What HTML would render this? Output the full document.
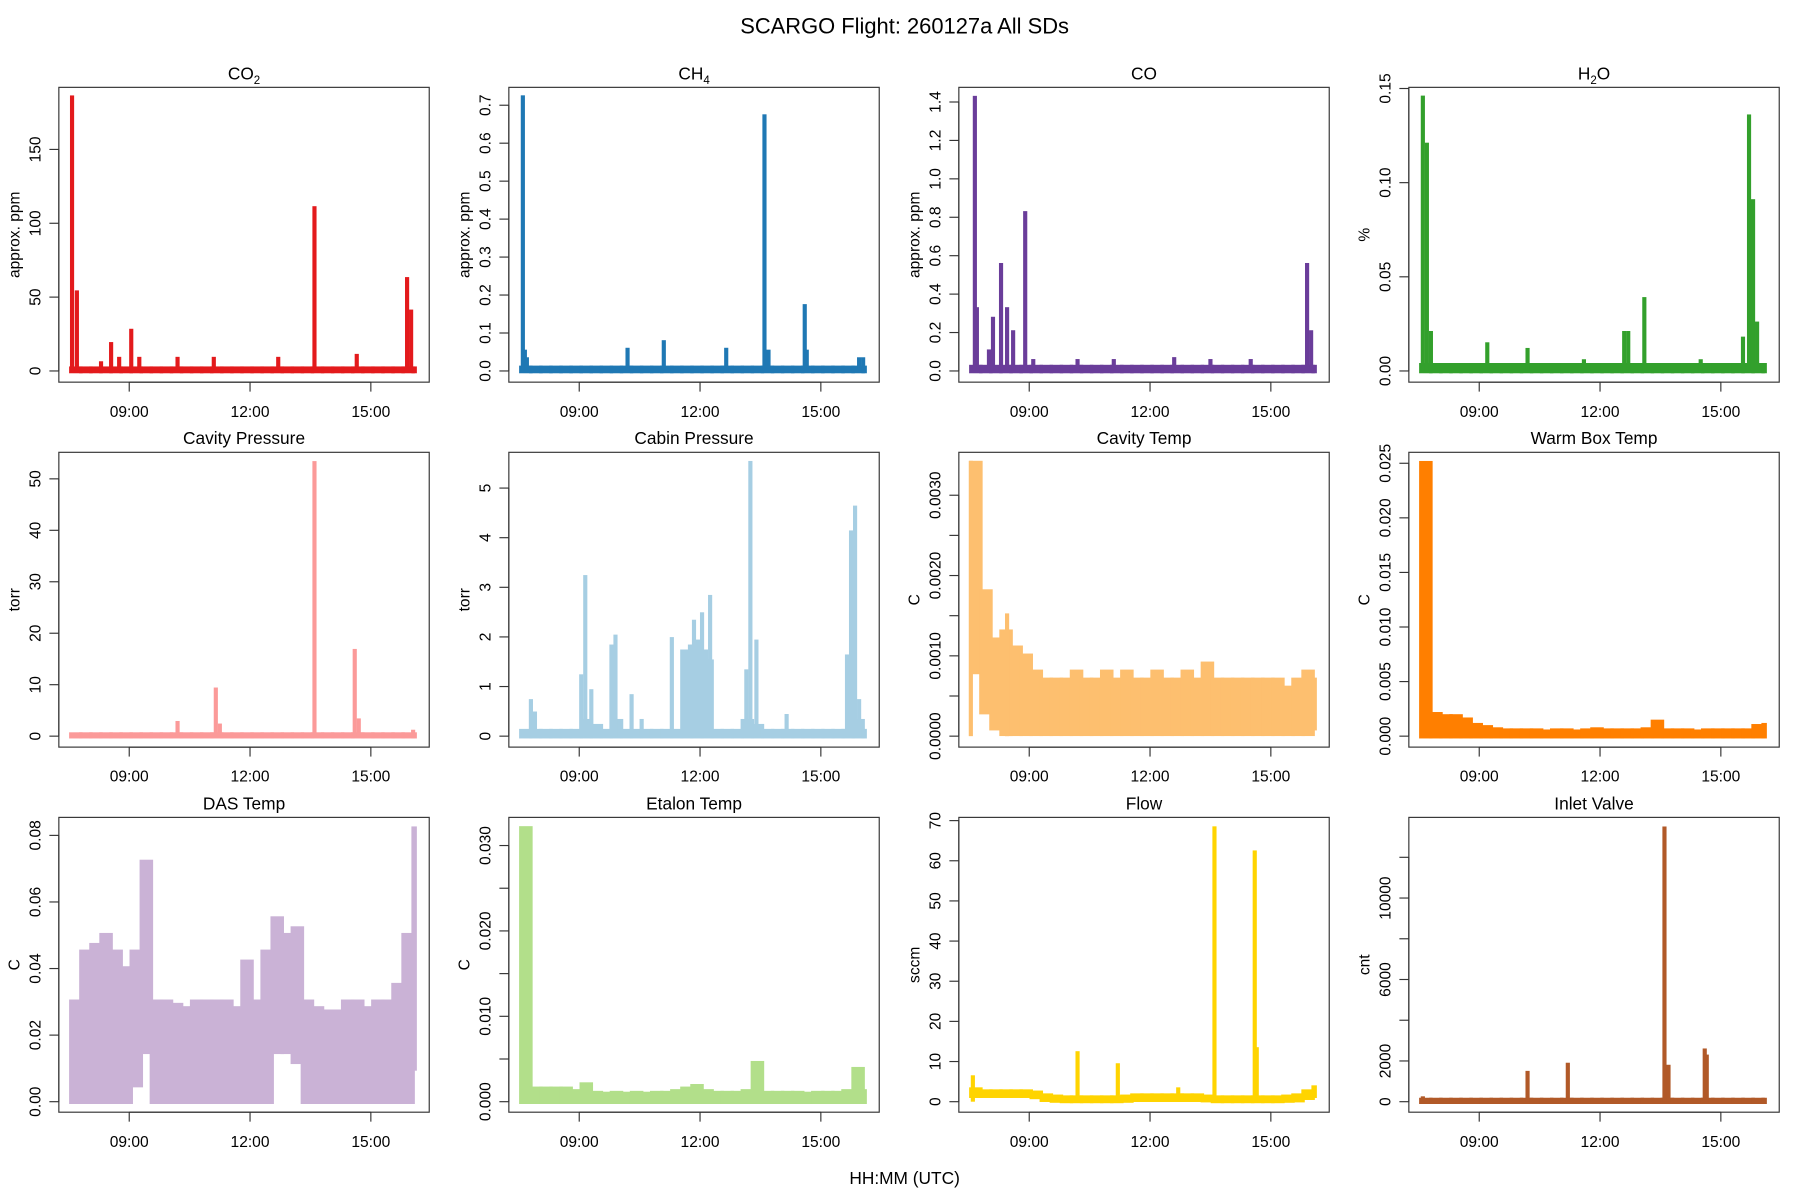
<!DOCTYPE html>
<html><head><meta charset="utf-8"><title>SCARGO Flight 260127a All SDs</title>
<style>
html,body{margin:0;padding:0;background:#fff;}
svg{display:block;font-family:"Liberation Sans",sans-serif;}
</style></head>
<body>
<svg id="chart" width="1800" height="1200" viewBox="0 0 1560 1040" xmlns="http://www.w3.org/2000/svg">
<text x="784" y="29" font-size="19" text-anchor="middle">SCARGO Flight: 260127a  All SDs</text>
<text x="784" y="1026" font-size="15" text-anchor="middle">HH:MM (UTC)</text>
</svg>
<script>
// shared bin times (hours UTC)
const binTimes = [7.55,7.80,8.05,8.30,8.55,8.80,9.05,9.30,9.55,9.80,10.05,10.30,10.55,10.80,11.05,11.30,11.55,11.80,12.05,12.30,12.55,12.80,13.05,13.30,13.55,13.80,14.05,14.30,14.55,14.80,15.05,15.30,15.55,15.80,16.05];
const xTickHours = [9,12,15];
const xTickLabels = ["09:00","12:00","15:00"];

// CO2
const co2SpikeT = [7.58,7.7,8.3,8.55,8.75,9.05,9.25,10.2,11.1,12.7,13.6,14.65,15.9,16.0];
const co2SpikeV = [185,53,5,18,8,27,8,8,8,8,110,10,62,40];
// CH4
const ch4SpikeT = [7.6,7.65,7.7,10.2,11.1,12.65,13.6,13.7,14.6,14.65,15.95,16.05];
const ch4SpikeV = [0.72,0.05,0.03,0.055,0.075,0.055,0.67,0.05,0.17,0.05,0.03,0.03];
// CO
const coSpikeT = [7.65,7.7,8.0,8.1,8.3,8.45,8.6,8.9,9.1,10.2,11.1,12.6,13.5,14.5,15.9,16.0];
const coSpikeV = [1.42,0.32,0.1,0.27,0.55,0.32,0.2,0.82,0.05,0.05,0.05,0.06,0.05,0.05,0.55,0.2];
// H2O
const h2oSpikeT = [7.6,7.7,7.8,9.2,10.2,11.6,12.6,12.7,13.1,14.5,15.55,15.7,15.8,15.9];
const h2oSpikeV = [0.145,0.12,0.02,0.014,0.011,0.005,0.02,0.02,0.038,0.005,0.017,0.135,0.09,0.025];
// Cavity pressure
const cavPSpikeT = [10.2,11.15,11.25,13.6,14.6,14.7,16.05];
const cavPSpikeV = [2.5,9,2,53,16.5,3,0.8];
// Cabin pressure
const cabinHi = [0.1,0.1,0.1,0.1,0.1,0.1,0.3,0.2,0.1,0.3,0.1,0.1,0.1,0.1,0.1,0.1,1.7,1.8,1.5,0.1,0.1,0.1,0.3,0.2,0.1,0.1,0.1,0.1,0.1,0.1,0.1,0.1,0.1,0.3,0.1];
const cabinSpikeT = [7.8,7.9,9.05,9.15,9.3,9.8,9.9,10.3,10.55,11.3,11.75,11.85,11.95,12.05,12.15,12.25,13.15,13.25,13.4,14.15,15.65,15.75,15.85,15.95];
const cabinSpikeV = [0.7,0.45,1.2,3.2,0.9,1.8,2.0,0.8,0.3,1.95,1.8,2.3,1.9,2.45,1.7,2.8,1.3,5.5,1.9,0.4,1.6,4.1,4.6,0.7];
// Cavity temp
const cavTHi = [0.0034,0.0018,0.0012,0.0013,0.0011,0.0010,0.0008,0.0007,0.0007,0.0007,0.0008,0.0007,0.0007,0.0008,0.0007,0.0008,0.0007,0.0007,0.0008,0.0007,0.0007,0.0008,0.0007,0.0009,0.0007,0.0007,0.0007,0.0007,0.0007,0.0007,0.0007,0.0006,0.0007,0.0008,0.0007];
const cavTLo = [0.0008,0.0003,0.0001,0.00003,0.00003,0.00003,0.00003,0.00003,0.00003,0.00003,0.00003,0.00003,0.00003,0.00003,0.00003,0.00003,0.00003,0.00003,0.00003,0.00003,0.00003,0.00003,0.00003,0.00003,0.00003,0.00003,0.00003,0.00003,0.00003,0.00003,0.00003,0.00003,0.00003,0.00003,0.0001];
const cavTSpikeT = [7.55,8.45];
const cavTSpikeV = [0.0034,0.0015];
// Warm box
const warmHi = [0.025,0.0020,0.0018,0.0018,0.0015,0.0010,0.0008,0.0006,0.0005,0.0005,0.0005,0.0005,0.0004,0.0005,0.0005,0.0004,0.0005,0.0006,0.0005,0.0005,0.0005,0.0005,0.0006,0.0013,0.0005,0.0005,0.0005,0.0004,0.0005,0.0005,0.0005,0.0005,0.0005,0.0009,0.0010];
// DAS temp
const dasHi = [0.030,0.045,0.047,0.050,0.045,0.040,0.045,0.072,0.030,0.030,0.029,0.028,0.030,0.030,0.030,0.030,0.028,0.042,0.030,0.045,0.055,0.050,0.052,0.030,0.028,0.027,0.027,0.030,0.030,0.028,0.030,0.030,0.035,0.050,0.082];
const dasLo = [0,0,0,0,0,0,0.005,0.015,0,0,0,0,0,0,0,0,0,0,0,0,0.015,0.015,0.012,0,0,0,0,0,0,0,0,0,0,0,0.01];
// Etalon temp
const etaHi = [0.032,0.0015,0.0015,0.0015,0.0015,0.0012,0.0020,0.0010,0.0009,0.0010,0.0009,0.0010,0.0009,0.0010,0.0010,0.0012,0.0015,0.0018,0.0012,0.0010,0.0010,0.0010,0.0012,0.0045,0.0010,0.0010,0.0010,0.0010,0.0009,0.0010,0.0010,0.0010,0.0012,0.0038,0.0012];
// Flow
const flowHi = [3,2.5,2.5,2.5,2.5,2.5,2.2,1.5,1.2,1.0,1.0,1.0,1.0,1.0,1.0,1.2,1.5,1.5,1.5,1.5,1.5,1.5,1.5,1.2,1.0,1.0,1.0,1.0,1.0,1.0,1.0,1.2,1.5,2.5,3.5];
const flowLo = [1.5,1.5,1.5,1.5,1.5,1.5,1.2,0.5,0.3,0.2,0.2,0.2,0.2,0.2,0.2,0.3,0.5,0.5,0.5,0.5,0.5,0.5,0.5,0.4,0.2,0.2,0.2,0.2,0.2,0.2,0.2,0.3,0.4,1.0,1.5];
const flowSpikeT = [7.6,10.2,11.2,12.7,13.6,14.6,14.65];
const flowSpikeV = [6,12,9,3,68,62,13];
// Inlet valve
const inletSpikeT = [7.6,10.2,11.2,13.6,13.7,14.6,14.65];
const inletSpikeV = [150,1400,1800,13400,1700,2500,2200];
const inletTickLabels = ["0","2000","","6000","","10000",""];

const svg = document.getElementById('chart');
const NS = 'http://www.w3.org/2000/svg';
const colX = [51,441,831,1221];
const rowY = [75.7,392,708.4];
const rowZero = [321.5,638,954.8];
const W = 321, H = 255.5;
const TL = 8.2;

function mk(tag, attrs, parent){
  const e = document.createElementNS(NS, tag);
  for (const k in attrs) e.setAttribute(k, attrs[k]);
  (parent||svg).appendChild(e);
  return e;
}

function panel(cfg){
  const L = colX[cfg.col], T = rowY[cfg.row], y0 = rowZero[cfg.row];
  const g = document.createElementNS(NS,'g');
  
  
  svg.appendChild(g);
  const xs = t => L + 61 + 34.9*(t-9);
  const ys = v => y0 - (v/cfg.tickStep)*cfg.pxPerTick;
  const band = document.createElementNS(NS,'g');
  
  
  g.appendChild(band);
  for (let i=0;i<binTimes.length;i++){
    const t0 = binTimes[i], t1 = Math.min(i+1<binTimes.length?binTimes[i+1]:16.1, 16.1);
    const hi = cfg.hi ? cfg.hi[i] : cfg.baseHi;
    const lo = cfg.lo ? cfg.lo[i] : 0;
    const x0 = xs(t0)-1.5, x1 = xs(t1)+1.5;
    const yt = ys(hi)-2, yb = ys(lo)+2;
    const r = mk('rect',{x:x0,y:yt,width:x1-x0,height:Math.max(yb-yt,3),fill:cfg.color},band);
    
    
  }
  if (cfg.spT){
    for (let i=0;i<cfg.spT.length;i++){
      const x = xs(cfg.spT[i]), yt = ys(cfg.spV[i])-2, yb = ys(0);
      const r = mk('rect',{x:x-1.8,y:yt,width:3.6,height:yb-yt,fill:cfg.color},band);
      
      
    }
  }
  const box = mk('rect',{x:L,y:T,width:W,height:H,fill:'none',stroke:'#333','stroke-width':1},g);
  
  
  const xa = document.createElementNS(NS,'g');
  
  
  g.appendChild(xa);
  mk('line',{x1:xs(9),x2:xs(15),y1:T+H,y2:T+H,stroke:'#333'},xa);
  xTickHours.forEach((h,i)=>{
    mk('line',{x1:xs(h),x2:xs(h),y1:T+H,y2:T+H+TL,stroke:'#333'},xa);
    const tx = mk('text',{x:xs(h),y:T+H+30,'font-size':13.5,'text-anchor':'middle'},xa);
    
    
    tx.textContent = xTickLabels[i];
  });
  const ya = document.createElementNS(NS,'g');
  
  
  g.appendChild(ya);
  const nt = cfg.nTicks;
  mk('line',{x1:L,x2:L,y1:ys(0),y2:ys(cfg.tickStep*(nt-1)),stroke:'#333'},ya);
  for (let k=0;k<nt;k++){
    const v = cfg.tickStep*k, y = ys(v);
    mk('line',{x1:L-TL,x2:L,y1:y,y2:y,stroke:'#333'},ya);
    let lab = null;
    if (cfg.labels) lab = cfg.labels[k] || null;
    else if (k % cfg.labelEvery === 0) lab = v.toFixed(cfg.dec);
    if (lab){
      const lx = L-16;
      const tx = mk('text',{x:lx,y:y,'font-size':13.5,'text-anchor':'middle',transform:`rotate(-90 ${lx} ${y})`},ya);
      
      
      tx.textContent = lab;
    }
  }
  const tx0 = L-34;
  const yt = mk('text',{x:tx0,y:T+H/2,'font-size':13.5,'text-anchor':'middle',transform:`rotate(-90 ${tx0} ${T+H/2})`},g);
  
  
  yt.textContent = cfg.ylab;
  const tt = mk('text',{x:L+W/2,y:T-7,'font-size':15,'text-anchor':'middle'},g);
  
  
  tt.textContent = cfg.title;
  if (cfg.sub){
    const s = mk('tspan',{'font-size':10,dy:4},tt); s.textContent = cfg.sub;
    if (cfg.after){ const a = mk('tspan',{dy:-4},tt); a.textContent = cfg.after; }
  }
}

panel({name:'co2',col:0,row:0,title:'CO',sub:'2',ylab:'approx. ppm',color:'#E31A1C',tickStep:50,pxPerTick:64,nTicks:4,labelEvery:1,dec:0,baseHi:1.5,spT:co2SpikeT,spV:co2SpikeV});
panel({name:'ch4',col:1,row:0,title:'CH',sub:'4',ylab:'approx. ppm',color:'#1F78B4',tickStep:0.1,pxPerTick:32.9,nTicks:8,labelEvery:1,dec:1,baseHi:0.008,spT:ch4SpikeT,spV:ch4SpikeV});
panel({name:'co',col:2,row:0,title:'CO',ylab:'approx. ppm',color:'#6A3D9A',tickStep:0.2,pxPerTick:33.3,nTicks:8,labelEvery:1,dec:1,baseHi:0.02,spT:coSpikeT,spV:coSpikeV});
panel({name:'h2o',col:3,row:0,title:'H',sub:'2',after:'O',ylab:'%',color:'#33A02C',tickStep:0.05,pxPerTick:81.6,nTicks:4,labelEvery:1,dec:2,baseHi:0.003,spT:h2oSpikeT,spV:h2oSpikeV});
panel({name:'cavity-pressure',col:0,row:1,title:'Cavity Pressure',ylab:'torr',color:'#FB9A99',tickStep:10,pxPerTick:44.6,nTicks:6,labelEvery:1,dec:0,baseHi:0.3,spT:cavPSpikeT,spV:cavPSpikeV});
panel({name:'cabin-pressure',col:1,row:1,title:'Cabin Pressure',ylab:'torr',color:'#A6CEE3',tickStep:1,pxPerTick:43.0,nTicks:6,labelEvery:1,dec:0,hi:cabinHi,spT:cabinSpikeT,spV:cabinSpikeV});
panel({name:'cavity-temp',col:2,row:1,title:'Cavity Temp',ylab:'C',color:'#FDBF6F',tickStep:0.0005,pxPerTick:34.8,nTicks:7,labelEvery:2,dec:4,hi:cavTHi,lo:cavTLo,spT:cavTSpikeT,spV:cavTSpikeV});
panel({name:'warm-box-temp',col:3,row:1,title:'Warm Box Temp',ylab:'C',color:'#FF7F00',tickStep:0.005,pxPerTick:47.3,nTicks:6,labelEvery:1,dec:3,hi:warmHi});
panel({name:'das-temp',col:0,row:2,title:'DAS Temp',ylab:'C',color:'#CAB2D6',tickStep:0.02,pxPerTick:57.7,nTicks:5,labelEvery:1,dec:2,hi:dasHi,lo:dasLo});
panel({name:'etalon-temp',col:1,row:2,title:'Etalon Temp',ylab:'C',color:'#B2DF8A',tickStep:0.005,pxPerTick:37.0,nTicks:7,labelEvery:2,dec:3,hi:etaHi});
panel({name:'flow',col:2,row:2,title:'Flow',ylab:'sccm',color:'#FFD400',tickStep:10,pxPerTick:34.8,nTicks:8,labelEvery:1,dec:0,hi:flowHi,lo:flowLo,spT:flowSpikeT,spV:flowSpikeV});
panel({name:'inlet-valve',col:3,row:2,title:'Inlet Valve',ylab:'cnt',color:'#B15928',tickStep:2000,pxPerTick:35.3,nTicks:7,labels:inletTickLabels,dec:0,baseHi:80,spT:inletSpikeT,spV:inletSpikeV});
</script>
</body></html>
